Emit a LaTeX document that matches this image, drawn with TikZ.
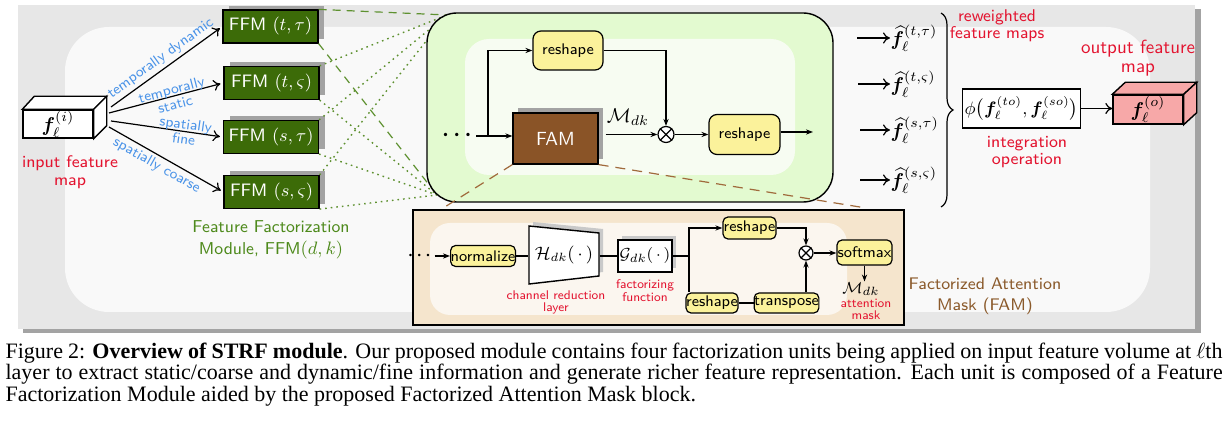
\documentclass[tikz,border=0pt]{standalone}
\usepackage{amsmath,amssymb,bm}
\usepackage{fontspec}
\newfontfamily\capfont{Liberation Serif}
\usetikzlibrary{arrows.meta,shadows,calc,decorations.pathreplacing}
\definecolor{bggray}{HTML}{E7E7E7}
\definecolor{shadowgray}{HTML}{A3A3A3}
\definecolor{lightshadow}{HTML}{C9C9C9}
\definecolor{bglight}{HTML}{F9F9F9}
\definecolor{greenbox}{HTML}{E3FAD0}
\definecolor{greeninner}{HTML}{F7FCF2}
\definecolor{ffmgreen}{HTML}{3C6B08}
\definecolor{fambrown}{HTML}{8A5427}
\definecolor{yellowbox}{HTML}{FBF29B}
\definecolor{fambg}{HTML}{F5E5CD}
\definecolor{faminner}{HTML}{FBF6EF}
\definecolor{redtxt}{HTML}{E3132F}
\definecolor{bluetxt}{HTML}{4A93E8}
\definecolor{greentxt}{HTML}{4E8A1C}
\definecolor{browntxt}{HTML}{8B5A2B}
\definecolor{pinkc}{HTML}{F7A8A8}
\definecolor{dashbrown}{HTML}{A06A3C}
\definecolor{dashgreen}{HTML}{5E9130}
\begin{document}
\begin{tikzpicture}[x=0.5pt,y=-0.5pt,line width=0.6pt,
  toarr/.style={-{To[length=3.5pt,width=5.5pt]}},
  starr/.style={-{Stealth[length=3.5pt,width=2.6pt]}},
  ffm/.style={draw=black,fill=ffmgreen,text=white,minimum width=47.5pt,minimum height=16.5pt,inner sep=0pt,
    font=\sffamily\fontsize{9}{10}\selectfont,
    drop shadow={shadow xshift=3pt,shadow yshift=2pt,fill=shadowgray,opacity=1}},
  ybox/.style={draw=black,fill=yellowbox,rounded corners=2.5pt,inner sep=0pt,font=\sffamily\fontsize{7.7}{8}\selectfont},
  redlbl/.style={text=redtxt,align=center,inner sep=0pt},
  bluelbl/.style={text=bluetxt,align=center,inner sep=1.5pt,font=\sffamily\fontsize{7.3}{7.6}\selectfont},
  gdash/.style={dashgreen,dash pattern=on 4pt off 3pt,line width=0.6pt},
  gdot/.style={dashgreen,dash pattern=on 0.8pt off 2pt,line width=0.7pt},
  bdash/.style={dashbrown,dash pattern=on 5pt off 3.5pt,line width=0.6pt},
  otimesnode/.style={circle,draw,fill=white,inner sep=0pt}
]
\useasboundingbox (0,0) rectangle (1231,426);
% background panels
\fill[shadowgray] (23,9) rectangle (1201,333);
\fill[bggray] (18,5) rectangle (1195,329);
\fill[bglight,rounded corners=22pt] (65,27) rectangle (1150,312);

% input cube
\node[draw,fill=white,minimum width=35pt,minimum height=14pt,inner sep=0pt,line width=0.7pt,font=\fontsize{10}{12}\selectfont] (in) at (58,124) {$\bm f_\ell^{(i)}$};
\draw[fill=white,line width=0.7pt] (in.north west) -- ($(in.north west)+(12,-13)$) -- ($(in.north east)+(13,-13)$) -- (in.north east) -- cycle;
\draw[fill=white,line width=0.7pt] (in.north east) -- ($(in.north east)+(13,-13)$) -- ($(in.south east)+(13,-13)$) -- (in.south east) -- cycle;
\node[redlbl,font=\sffamily\fontsize{8.4}{8.8}\selectfont] (inl) at (70,172) {input feature\\map};

% FFM boxes
\node[ffm] (f1) at (270.5,26.5) {FFM $(t,\tau)$};
\node[ffm] (f2) at (271.5,83) {FFM $(t,\varsigma)$};
\node[ffm] (f3) at (271,137) {FFM $(s,\tau)$};
\node[ffm] (f4) at (271.5,192) {FFM $(s,\varsigma)$};
\coordinate (a1) at (111,107);
\coordinate (a2) at (109,113);
\coordinate (a3) at (111,121);
\coordinate (a4) at (109,127);
\draw[toarr,shorten >=1.5pt] (a1) -- (f1.west) node[pos=0.5,sloped,above,bluelbl] {temporally dynamic};
\draw[toarr,shorten >=1.5pt] (a2) -- (f2.west) node[pos=0.56,sloped,bluelbl,yshift=-0.5pt] {temporally\\static};
\draw[toarr,shorten >=1.5pt] (a3) -- (f3.west) node[pos=0.66,sloped,bluelbl] {spatially\\fine};
\draw[toarr,shorten >=1.5pt] (a4) -- (f4.west) node[pos=0.46,sloped,below,bluelbl] {spatially coarse};
\node[text=greentxt,align=center,inner sep=0pt,font=\sffamily\fontsize{8.6}{11}\selectfont] (ffml) at (271,240) {Feature Factorization\\Module, FFM$(d,k)$};

% zoom lines to green box
\coordinate (gTL) at (447,15);
\coordinate (gBL) at (437,195);
\draw[gdash] (f1.north east) -- (gTL);
\draw[gdash] (f1.south east) -- (gBL);
\foreach \n in {f2,f3,f4} {
  \draw[gdot] (\n.north east) -- (gTL);
  \draw[gdot] (\n.south east) -- (gBL);
}

% green FFM box
\draw[fill=greenbox,line width=0.7pt,rounded corners=15pt] (427,13) rectangle (833,202);
\fill[greeninner,rounded corners=12pt] (465,39) rectangle (795,175);
\node[inner sep=0pt,font=\fontsize{11}{12}\selectfont] (d1) at (459,135) {$\bm{\cdots}$};
\node[draw=black,fill=fambrown,text=white,minimum width=42.5pt,minimum height=25.5pt,inner sep=0pt,
  font=\sffamily\fontsize{9.5}{10}\selectfont,
  drop shadow={shadow xshift=2.5pt,shadow yshift=2.5pt,fill=shadowgray,opacity=1}] (fam) at (555.5,138.5) {FAM};
\node[ybox,minimum width=35pt,minimum height=19.5pt,rounded corners=4pt] (rs1) at (568,50.5) {reshape};
\node[ybox,minimum width=35.5pt,minimum height=20pt,rounded corners=4pt] (rs2) at (744.5,134.5) {reshape};
\node[otimesnode,minimum size=8pt] (ot1) at (666,134.5) {};
\draw (ot1.north west) -- (ot1.south east) (ot1.north east) -- (ot1.south west);
\coordinate (br1) at (488,136);
\draw[starr] (d1.east |- br1) -- (br1 -| fam.west);
\draw[starr] (br1) |- (rs1.west);
\draw[starr] (rs1.east) -| (ot1.north);
\draw[starr,shorten <=3.5pt] (fam.east |- ot1.west) -- (ot1.west) node[midway,above,yshift=1pt,font=\fontsize{10}{12}\selectfont] {$\mathcal M_{dk}$};
\draw[starr] (ot1) -- (rs2);
\coordinate (o1) at (813,132);
\draw[starr] (rs2.east |- o1) -- (o1);

% brown zoom lines
\coordinate (fTL) at (440,210);
\coordinate (fTR) at (866,208);
\draw[bdash] (fam.south west) -- (fTL);
\draw[bdash] (fam.south east) -- (fTR);

% FAM detail box
\draw[fill=fambg,line width=0.7pt] (413,210) rectangle (904,325);
\fill[faminner,rounded corners=10pt] (430,223) rectangle (847,315);
\node[inner sep=0pt,font=\fontsize{8}{8}\selectfont] (d2) at (421,256) {$\bm{\cdots}$};
\node[ybox,minimum width=32pt,minimum height=10.5pt] (nm) at (483,256) {normalize};
\draw[starr] (d2.east |- nm.west) -- (nm.west);
\fill[lightshadow] (533,222) -- (603,229) -- (603,272) -- (533,280) -- cycle;
\draw[fill=white,line width=0.7pt] (529,226) -- (599,233) -- (599,276) -- (529,284) -- cycle;
\node[inner sep=0pt,minimum width=35pt,minimum height=29pt,font=\fontsize{9}{11}\selectfont] (H) at (564,255) {$\mathcal H_{dk}(\,\cdot\,)$};
\node[draw,fill=white,minimum width=27pt,minimum height=16pt,inner sep=0pt,line width=0.7pt,font=\fontsize{8.5}{10}\selectfont,
  drop shadow={shadow xshift=2pt,shadow yshift=2pt,fill=lightshadow,opacity=1}] (G) at (645,256) {$\mathcal G_{dk}(\,\cdot\,)$};
\draw (nm.east) -- (nm.east -| H.west);
\draw (H.east |- G.west) -- (G.west);
\coordinate (br2) at (689,256);
\draw (G.east) -- (br2);
\node[ybox,minimum width=26.5pt,minimum height=11pt] (rs3) at (749.5,228) {reshape};
\node[ybox,minimum width=26pt,minimum height=10pt] (rs4) at (712,303) {reshape};
\node[ybox,minimum width=31.5pt,minimum height=10pt] (tp) at (786.5,303) {transpose};
\node[otimesnode,minimum size=7pt] (ot2) at (806,253) {};
\draw (ot2.north west) -- (ot2.south east) (ot2.north east) -- (ot2.south west);
\draw[starr] (br2) |- (rs3.west);
\draw (br2) -- (br2 |- rs4.north);
\draw (rs4.east) -- (tp.west);
\draw[starr] (rs3.east) -| (ot2.north);
\draw[starr] (ot2 |- tp.north) -- (ot2.south);
\node[ybox,minimum width=27.5pt,minimum height=12.5pt] (sm) at (864.5,252.5) {softmax};
\draw[starr] (ot2.east) -- (sm.west |- ot2.east);
\node[inner sep=0pt,font=\fontsize{8.5}{10}\selectfont] (m2) at (861,289) {$\mathcal M_{dk}$};
\draw[starr] (sm.south) -- (sm.south |- m2.north);
\node[redlbl,font=\sffamily\fontsize{6.3}{6.3}\selectfont] (atl) at (866,309.5) {attention\\mask};
\node[redlbl,font=\sffamily\fontsize{6.3}{6}\selectfont] (crl) at (556,302.5) {channel reduction\\layer};
\node[redlbl,font=\sffamily\fontsize{6.3}{6.6}\selectfont] (ffl) at (645,290.5) {factorizing\\function};
\node[text=browntxt,align=center,inner sep=0pt,font=\sffamily\fontsize{8.4}{10.5}\selectfont] (faml) at (985,296) {Factorized Attention\\Mask (FAM)};

% reweighted outputs
\foreach \i/\y/\x/\s in {1/38/857/{(t,\tau)},2/84/858/{(t,\varsigma)},3/130/860/{(s,\tau)},4/180/860/{(s,\varsigma)}} {
  \coordinate (c\i) at (\x,\y);
  \node[anchor=west,inner sep=0pt,font=\fontsize{10}{12}\selectfont] (h\i) at (890,\y) {$\widehat{\bm f}_\ell^{\s}$};
  \draw[toarr] (c\i) -- (c\i -| h\i.west);
}
\coordinate (bt) at (941,13);
\coordinate (bb) at (941,207);
\draw[decorate,decoration={brace,amplitude=6pt},line width=0.6pt] (bt) -- (bb);
\node[redlbl,font=\sffamily\fontsize{8.5}{8.6}\selectfont] (rwl) at (997,26) {reweighted\\feature maps};
\node[draw,fill=white,minimum width=52.5pt,minimum height=19.5pt,inner sep=1pt,line width=0.7pt,font=\fontsize{9}{11}\selectfont] (phi) at (1021.5,108.5) {$\phi\bigl(\bm f_\ell^{(to)},\bm f_\ell^{(so)}\bigr)$};
\node[redlbl,font=\sffamily\fontsize{8.4}{8.6}\selectfont] (iol) at (1027,152) {integration\\operation};
\node[draw,fill=pinkc,minimum width=35pt,minimum height=14.5pt,inner sep=0pt,line width=0.7pt,font=\fontsize{10}{12}\selectfont] (out) at (1148,109.5) {$\bm f_\ell^{(o)}$};
\draw[fill=pinkc,line width=0.7pt] (out.north west) -- ($(out.north west)+(13,-12)$) -- ($(out.north east)+(13,-12)$) -- (out.north east) -- cycle;
\draw[fill=pinkc,line width=0.7pt] (out.north east) -- ($(out.north east)+(13,-12)$) -- ($(out.south east)+(13,-12)$) -- (out.south east) -- cycle;
\draw[toarr] (phi.east) -- (phi.east -| out.west);
\node[redlbl,font=\sffamily\fontsize{9.5}{9.6}\selectfont] (ofl) at (1138,58) {output feature\\map};

% caption
\node[anchor=north west,text width=608.5pt,inner sep=0pt,align=justify,font=\capfont\fontsize{11}{10.85}\selectfont] (cap) at (5,342) {Figure 2: \textbf{Overview of STRF module}. Our proposed module contains four factorization units being applied on input feature volume at $\ell$th\linebreak layer to extract static/coarse and dynamic/fine information and generate richer feature representation. Each unit is composed of a Feature\linebreak Factorization Module aided by the proposed Factorized Attention Mask block.};
\end{tikzpicture}
\end{document}
